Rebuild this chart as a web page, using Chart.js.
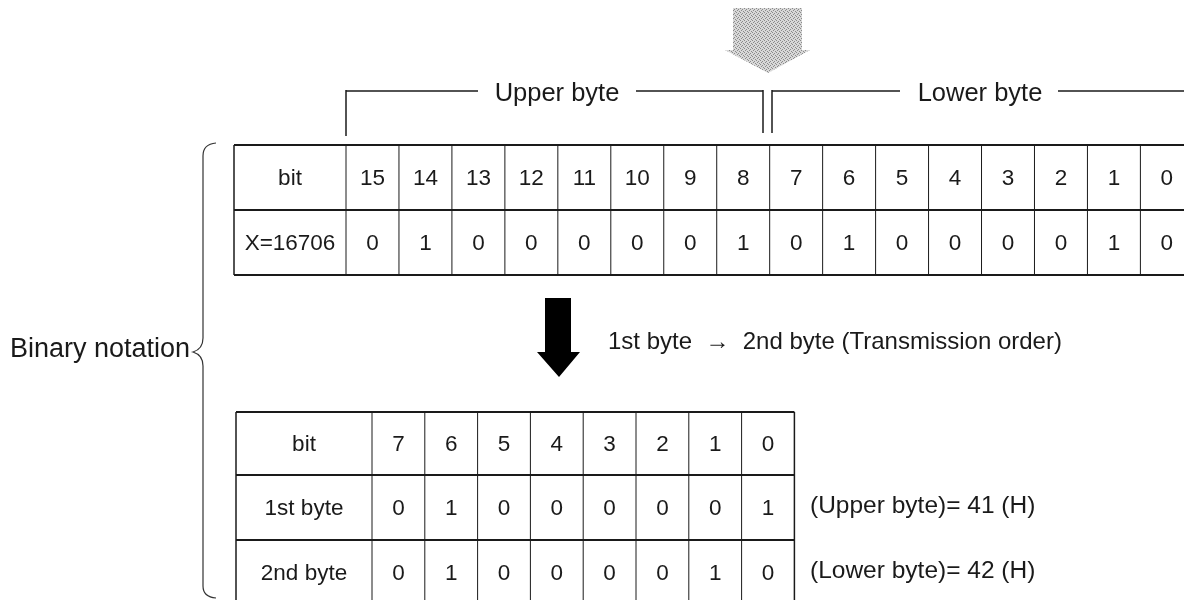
<!DOCTYPE html>
<html>
<head>
<meta charset="utf-8">
<script src="https://cdn.jsdelivr.net/npm/chart.js@4/dist/chart.umd.min.js"></script>
<style>
  html, body { margin: 0; padding: 0; background: #fff; }
  #wrap { width: 1184px; height: 600px; }
</style>
</head>
<body>
<div id="wrap"><canvas id="chart" width="1184" height="600"></canvas></div>
<script>
// data
const topBitLabels = ['15', '14', '13', '12', '11', '10', '9', '8', '7', '6', '5', '4', '3', '2', '1', '0'];
const valueBits = [0, 1, 0, 0, 0, 0, 0, 1, 0, 1, 0, 0, 0, 0, 1, 0];
const lowBitLabels = ['7', '6', '5', '4', '3', '2', '1', '0'];
const firstByteBits = [0, 1, 0, 0, 0, 0, 0, 1];
const secondByteBits = [0, 1, 0, 0, 0, 0, 1, 0];
const topRowLabels = ['bit', 'X=16706'];
const lowRowLabels = ['bit', '1st byte', '2nd byte'];
const byteGroups = ['Upper byte', 'Lower byte'];
const byteNotes = ['(Upper byte)= 41 (H)', '(Lower byte)= 42 (H)'];
const orderNote = '1st byte  \u2192  2nd byte (Transmission order)';
const sideLabel = 'Binary notation';

const FONT = '"Liberation Sans", Arial, Helvetica, sans-serif';
const INK = '#1a1a1a';

// layout (chart units = pixels)
const topTable = { left: 234, labelRight: 346, colW: 52.96, rows: [145, 210, 275] };
const lowTable = { left: 236, labelRight: 372, colW: 52.8, rows: [412, 475, 540, 605] };

function tablePoints(table, rowLabels, rows) {
  const pts = [];
  rowLabels.forEach((lab, r) => {
    const cy = (table.rows[r] + table.rows[r + 1]) / 2;
    pts.push({ x: (table.left + table.labelRight) / 2, y: cy, t: lab });
    rows[r].forEach((v, c) => {
      pts.push({ x: table.labelRight + table.colW * (c + 0.5), y: cy, t: String(v) });
    });
  });
  return pts;
}

const topPoints = tablePoints(topTable, topRowLabels, [topBitLabels, valueBits]);
const lowPoints = tablePoints(lowTable, lowRowLabels, [lowBitLabels, firstByteBits, secondByteBits]);

function grayPattern(ctx) {
  const c = document.createElement('canvas');
  c.width = 4; c.height = 4;
  const g = c.getContext('2d');
  g.fillStyle = '#d8d8d8';
  g.fillRect(0, 0, 4, 4);
  g.fillStyle = '#8a8a8a';
  [[0, 0], [2, 1], [1, 2], [3, 3]].forEach(p => g.fillRect(p[0], p[1], 1, 1));
  return ctx.createPattern(c, 'repeat');
}

const diagram = {
  id: 'diagram',
  afterDatasetsDraw(chart) {
    const { ctx, scales: { x, y } } = chart;
    const px = v => x.getPixelForValue(v);
    const py = v => y.getPixelForValue(v);
    ctx.save();
    ctx.strokeStyle = INK;
    ctx.fillStyle = INK;

    const line = (x1, y1, x2, y2, w) => {
      ctx.lineWidth = w;
      ctx.beginPath();
      ctx.moveTo(px(x1), py(y1));
      ctx.lineTo(px(x2), py(y2));
      ctx.stroke();
    };

    // table grids
    [topTable, lowTable].forEach((t, i) => {
      const n = i === 0 ? topBitLabels.length : lowBitLabels.length;
      const right = t.labelRight + t.colW * n;
      t.rows.forEach(r => line(t.left, r, right, r, 2));
      line(t.left, t.rows[0], t.left, t.rows[t.rows.length - 1], 1.5);
      for (let c = 0; c <= n; c++) {
        const xx = t.labelRight + t.colW * c;
        line(xx, t.rows[0], xx, t.rows[t.rows.length - 1], c === n ? 1.5 : 1);
      }
    });

    // cell text from datasets
    ctx.textAlign = 'center';
    ctx.textBaseline = 'middle';
    ctx.font = '22.5px ' + FONT;
    chart.data.datasets.forEach((ds, i) => {
      const meta = chart.getDatasetMeta(i);
      meta.data.forEach((pt, j) => ctx.fillText(ds.data[j].t, pt.x, pt.y + 1));
    });

    // upper / lower byte brackets
    ctx.font = '25.5px ' + FONT;
    ctx.textBaseline = 'alphabetic';
    line(346, 91, 478, 91, 1.5);
    line(636, 91, 763, 91, 1.5);
    line(346, 90, 346, 136, 1.5);
    line(763, 90, 763, 133, 1.5);
    ctx.fillText(byteGroups[0], px(557), py(101));
    line(772, 91, 900, 91, 1.5);
    line(1058, 91, 1184, 91, 1.5);
    line(772, 90, 772, 133, 1.5);
    ctx.fillText(byteGroups[1], px(980), py(101));

    // gray arrow
    ctx.fillStyle = grayPattern(ctx);
    ctx.beginPath();
    ctx.moveTo(px(733), py(8));
    ctx.lineTo(px(802), py(8));
    ctx.lineTo(px(802), py(50));
    ctx.lineTo(px(810), py(50));
    ctx.lineTo(px(768), py(73));
    ctx.lineTo(px(725), py(50));
    ctx.lineTo(px(733), py(50));
    ctx.closePath();
    ctx.fill();

    // black arrow
    ctx.fillStyle = '#000';
    ctx.beginPath();
    ctx.moveTo(px(545), py(298));
    ctx.lineTo(px(571), py(298));
    ctx.lineTo(px(571), py(352));
    ctx.lineTo(px(580), py(352));
    ctx.lineTo(px(559), py(377));
    ctx.lineTo(px(537), py(352));
    ctx.lineTo(px(545), py(352));
    ctx.closePath();
    ctx.fill();

    // notes
    ctx.fillStyle = INK;
    ctx.font = '24px ' + FONT;
    ctx.textAlign = 'left';
    ctx.textBaseline = 'middle';
    ctx.fillText(orderNote, px(608), py(342));
    ctx.font = '24.5px ' + FONT;
    byteNotes.forEach((s, k) => {
      const cy = (lowTable.rows[k + 1] + lowTable.rows[k + 2]) / 2;
      ctx.fillText(s, px(810), py(cy - 1));
    });

    // brace + side label
    ctx.lineWidth = 1.2;
    ctx.strokeStyle = '#333';
    ctx.beginPath();
    ctx.moveTo(px(216), py(143));
    ctx.quadraticCurveTo(px(203), py(144), px(203), py(156));
    ctx.lineTo(px(203), py(338));
    ctx.quadraticCurveTo(px(203), py(349), px(193), py(352));
    ctx.quadraticCurveTo(px(203), py(355), px(203), py(366));
    ctx.lineTo(px(203), py(586));
    ctx.quadraticCurveTo(px(203), py(597), px(216), py(598));
    ctx.stroke();

    ctx.font = '27px ' + FONT;
    ctx.textAlign = 'right';
    ctx.fillText(sideLabel, px(190), py(350));
    ctx.restore();
  }
};

new Chart(document.getElementById('chart'), {
  type: 'scatter',
  data: {
    datasets: [
      { label: 'top table', data: topPoints, pointRadius: 0, showLine: false },
      { label: 'lower table', data: lowPoints, pointRadius: 0, showLine: false }
    ]
  },
  options: {
    responsive: false,
    animation: false,
    events: [],
    layout: { padding: 0 },
    scales: {
      x: { type: 'linear', min: 0, max: 1184, display: false },
      y: { type: 'linear', min: 0, max: 600, reverse: true, display: false }
    },
    plugins: { legend: { display: false }, tooltip: { enabled: false } }
  },
  plugins: [diagram]
});
</script>
</body>
</html>
